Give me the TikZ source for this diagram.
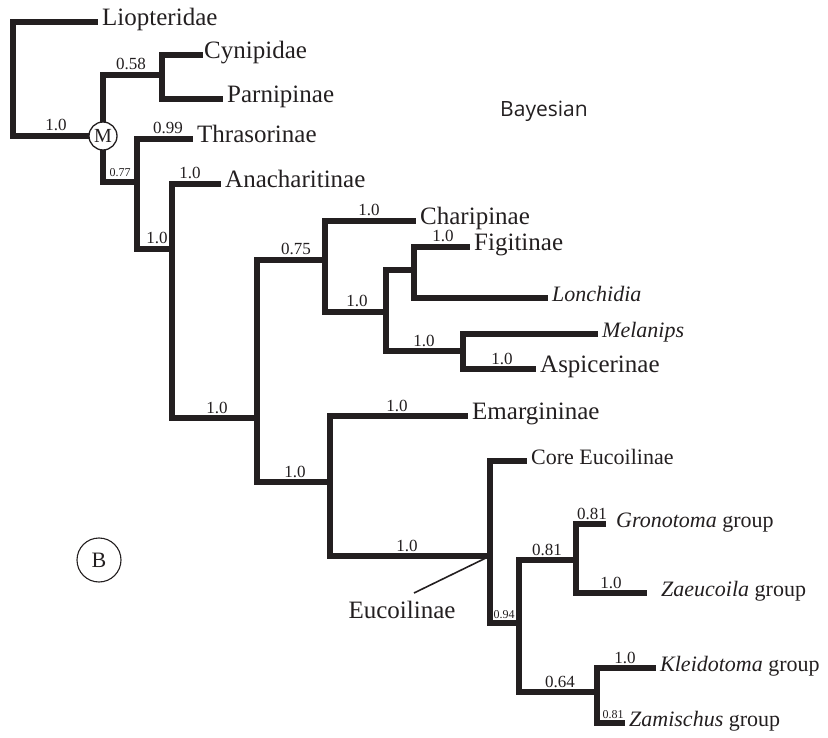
\documentclass[tikz,border=0pt]{standalone}
\usepackage{fontspec}
\setmainfont{Liberation Serif}
\newfontfamily\labelsans{Open Sans}
\usepackage{tikz}
\definecolor{ink}{HTML}{231F20}
\newcommand\taxfont{\fontsize{25}{28}\selectfont}
\newcommand\grpfont{\fontsize{22}{26}\selectfont}
\newcommand\supfont{\fontsize{17}{20}\selectfont}
\newcommand\tinyfont{\fontsize{12}{14}\selectfont}

\begin{document}
\begin{tikzpicture}
  [x=1pt,y=-1pt,
   branch/.style={draw=ink,line width=5.2pt,line cap=rect,line join=miter},
   taxon/.style={anchor=west,inner xsep=7pt,inner ysep=0pt,text depth=0pt,text height=.66em,font=\taxfont,text=ink},
   grp/.style={taxon,font=\grpfont},
   support/.style={anchor=base,inner sep=0pt,font=\supfont,text=ink},
   supsmall/.style={support,font=\tinyfont}]
  \useasboundingbox (0,0) rectangle (828,738);

  \coordinate (root) at (13,136);
  \coordinate (nM) at (103,136);
  \coordinate (n1) at (162,75);
  \coordinate (n2) at (137,182);
  \coordinate (n3) at (172,249);
  \coordinate (n4) at (257,418);
  \coordinate (n5) at (325,260);
  \coordinate (n6) at (330,482);
  \coordinate (n7) at (386,312);
  \coordinate (n8) at (414,270);
  \coordinate (n9) at (463,351);
  \coordinate (n10) at (490,556);
  \coordinate (n11) at (519,623);
  \coordinate (n12) at (576,560);
  \coordinate (n13) at (597,692);

  \node[taxon] (liop) at (95,22) {Liopteridae};
  \node[taxon,inner xsep=4pt] (cyni) at (200,55) {Cynipidae};
  \node[taxon] (parn) at (220,99) {Parnipinae};
  \node[taxon] (thra) at (190,139) {Thrasorinae};
  \node[taxon] (anac) at (218,184) {Anacharitinae};
  \node[taxon] (char) at (413,221) {Charipinae};
  \node[taxon] (figi) at (467,247) {Figitinae};
  \node[grp] (lonc) at (545,298) {\textit{Lonchidia}};
  \node[grp] (mela) at (595,334) {\textit{Melanips}};
  \node[taxon] (aspi) at (533,369) {Aspicerinae};
  \node[taxon] (emar) at (465,416) {Emargininae};
  \node[grp] (core) at (524,461) {Core Eucoilinae};
  \node[grp,inner xsep=13pt] (gron) at (603,524) {\textit{Gronotoma} group};
  \node[grp,inner xsep=17pt] (zaeu) at (644,593) {\textit{Zaeucoila} group};
  \node[grp] (klei) at (653,668) {\textit{Kleidotoma} group};
  \node[grp] (zami) at (622,723) {\textit{Zamischus} group};

  \foreach \from/\to in {nM/n1,nM/n2,n2/n3,n3/n4,n4/n5,n4/n6,n5/n7,n7/n8,n7/n9,n6/n10,n10/n11,n11/n12,n11/n13}
    \draw[branch] (\from) |- (\to);

  \foreach \from/\to in {root/liop,n1/cyni,n1/parn,n2/thra,n3/anac,n5/char,n8/figi,n8/lonc,n9/mela,n9/aspi,n6/emar,n10/core,n12/gron,n12/zaeu,n13/klei,n13/zami}
    \draw[branch] (\from) |- (\to.west);

  \draw[branch] (root) -- (nM);

  \foreach \x/\y/\v [count=\i] in {56/131/1.0,131/70/0.58,168/134/0.99,190/179/1.0,157/244/1.0,296/255/0.75,369/216/1.0,357/307/1.0,443/242/1.0,424/346/1.0,502/364/1.0,217/413/1.0,295/477/1.0,397/411/1.0,407/551/1.0,547/555/0.81,592/519/0.81,611/588/1.0,560/687/0.64,625/663/1.0}
    \node[support] (s\i) at (\x,\y) {\v};

  \foreach \x/\y/\v [count=\i] in {120/177/0.77,504/618/0.94,613/718/0.81}
    \node[supsmall] (t\i) at (\x,\y) {\v};

  \node[circle,draw=ink,fill=white,line width=1.3pt,minimum size=28pt,inner sep=0pt,font=\fontsize{20}{22}\selectfont,text=ink] (mark) at (nM) {M};
  \node[circle,draw=ink,line width=1.1pt,minimum size=44pt,inner sep=0pt,font=\grpfont,text=ink] (panel) at (99,560) {B};
  \node[anchor=base,font=\labelsans\fontsize{21}{24}\selectfont,text=ink] (meth) at (544,117) {Bayesian};

  \coordinate (eucend) at (414,593);
  \node[anchor=base,font=\taxfont,text=ink] (euco) at (402,618) {Eucoilinae};
  \draw[ink,line width=1.6pt] (n10) -- (eucend);

\end{tikzpicture}
\end{document}
